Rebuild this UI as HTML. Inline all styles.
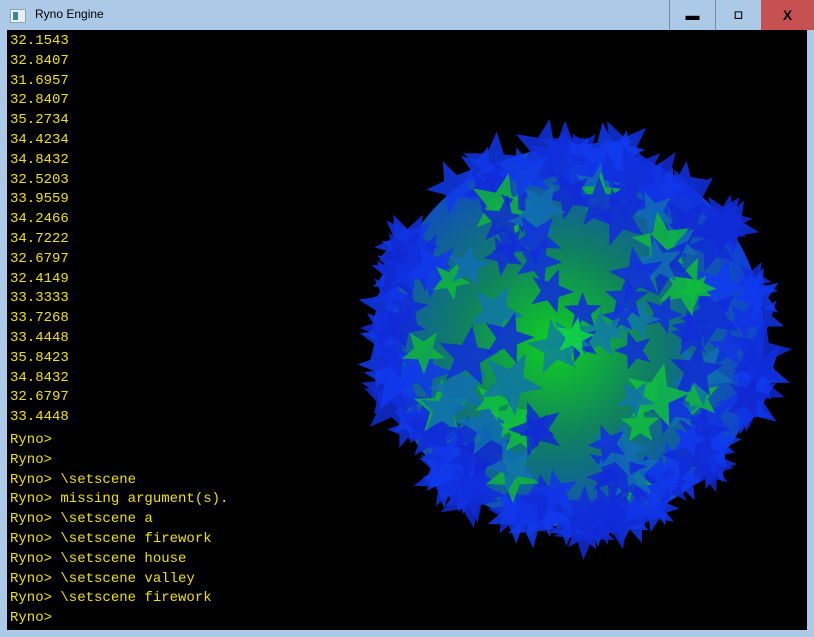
<!DOCTYPE html>
<html><head><meta charset="utf-8"><style>
html,body{margin:0;padding:0;width:814px;height:637px;overflow:hidden;background:#adc9e8;font-family:"Liberation Sans",sans-serif}
#title{position:absolute;left:0;top:0;width:814px;height:30px;background:#adc9e8}
#ttl{position:absolute;left:35px;top:7px;font-size:12px;color:#000}
#icon{position:absolute;left:10px;top:9px;width:14px;height:12px;background:#e8eef4;border:1px solid #8aa}
#icon:after{content:"";position:absolute;left:2px;top:2px;width:5px;height:8px;background:#3a8a8a}
.btn{position:absolute;top:0;height:30px;width:45px;border-left:1px solid #6a8db3;text-align:center;line-height:30px;font-size:14px;font-weight:bold}
#close{left:761px;width:53px;background:#c75050;border-left:none}
#con{position:absolute;left:7px;top:30px;width:800px;height:600px;background:#000;overflow:hidden}
.t{position:absolute;left:3px;font-family:"Liberation Mono",monospace;font-size:14px;color:#f0e000;white-space:pre;line-height:16px}
</style></head><body>
<div id="title">
<div id="icon"></div>
<div id="ttl">Ryno Engine</div>
<div class="btn" style="left:669px">&#9644;</div>
<div class="btn" style="left:715px;font-size:11px">&#9723;</div>
<div class="btn" id="close">X</div>
</div>
<div id="con">
<svg id="sv" width="800" height="600" style="position:absolute;left:0;top:0">
<defs><radialGradient id="g" cx="0.45" cy="0.52" r="0.55"><stop offset="0" stop-color="#10d020"/><stop offset="0.45" stop-color="#108060"/><stop offset="1" stop-color="#1040d8"/></radialGradient></defs>
<circle cx="567" cy="307" r="190" fill="url(#g)"/>
<g id="stars"></g>
</svg>
<div id="lines"></div>
</div>
<script>
var lines=["32.1543","32.8407","31.6957","32.8407","35.2734","34.4234","34.8432","32.5203","33.9559","34.2466","34.7222","32.6797","32.4149","33.3333","33.7268","33.4448","35.8423","34.8432","32.6797","33.4448"];
var cmds=["Ryno>","Ryno>","Ryno> \\setscene","Ryno> missing argument(s).","Ryno> \\setscene a","Ryno> \\setscene firework","Ryno> \\setscene house","Ryno> \\setscene valley","Ryno> \\setscene firework","Ryno>"];
var L=document.getElementById('lines');
lines.forEach(function(s,i){var d=document.createElement('div');d.className='t';d.style.top=(3+i*19.8)+'px';d.textContent=s;


L.appendChild(d);});
cmds.forEach(function(s,i){var d=document.createElement('div');d.className='t';d.style.top=(402+i*19.8)+'px';d.textContent=s;


L.appendChild(d);});
var seed=11;function r(){seed=(seed*16807)%2147483647;return seed/2147483647;}
var G=document.getElementById('stars'),cx=567,cy=307,R=192,h='';
var arr=[];
for(var i=0;i<380;i++){
 var u=r()*2-1,th=r()*Math.PI*2,s=Math.sqrt(1-u*u);
 arr.push([s*Math.cos(th),s*Math.sin(th),u,r(),r(),r()]);
}
arr.sort(function(a,b){return a[2]-b[2];});
arr.forEach(function(p){
 var x=p[0],y=p[1],z=p[2];
 if(z<-0.05)return;
 var px=cx+x*R,py=cy+y*R,sz=18+p[3]*16;
 var c=Math.sqrt(x*x+y*y),col;
 var q=p[4];
 if(c>0.8||q<0.45)col='rgb(16,'+Math.round(40+20*q)+','+Math.round(210+30*q)+')';
 else if(q<0.82)col='rgb(16,'+Math.round(100+30*(1-c))+','+Math.round(150+40*c)+')';
 else col='rgb(16,'+Math.round(170+50*(1-c))+',60)';
 var rot=p[5]*Math.PI,pts=[];
 for(var k=0;k<10;k++){var rr=k%2?sz*0.42:sz,a=rot+k*Math.PI/5;pts.push((px+rr*Math.cos(a)).toFixed(1)+','+(py+rr*Math.sin(a)).toFixed(1));}
 h+='<polygon points="'+pts.join(' ')+'" fill="'+col+'" fill-opacity="0.85"/>';
});
G.innerHTML=h;
</script>
</body></html>
